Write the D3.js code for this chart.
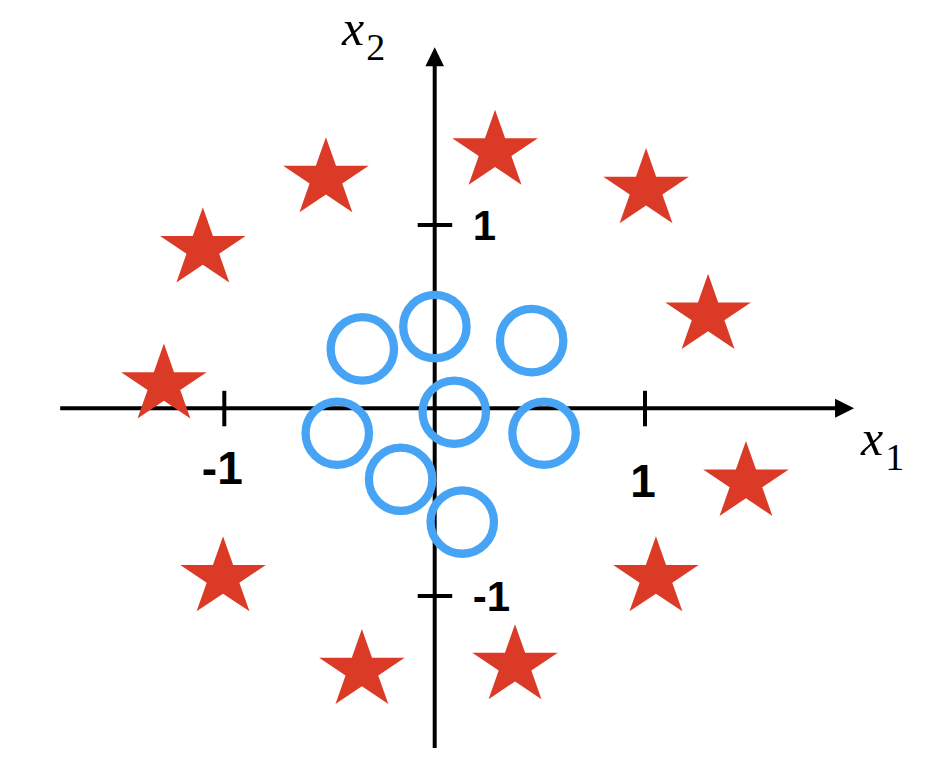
<!DOCTYPE html>
<html>
<head>
<meta charset="utf-8">
<script src="https://cdn.jsdelivr.net/npm/d3@7"></script>
<style>
html,body{margin:0;padding:0;background:#fff;}
svg{display:block;}
</style>
</head>
<body>
<svg id="chart" width="932" height="770"></svg>
<script>
// Data (axis units)
const circleX = [-0.344, 0.001, 0.461, 0.093, -0.463, 0.520, -0.162, 0.131];
const circleY = [0.324, 0.446, 0.369, -0.021, -0.133, -0.133, -0.378, -0.606];
const starX = [-1.287, -1.102, -0.517, 0.287, 1.005, 1.300, 1.480, 1.052, 0.382, -0.346, -1.006];
const starY = [0.127, 0.870, 1.253, 1.403, 1.193, 0.507, -0.395, -0.903, -1.371, -1.397, -0.903];
const xTicks = [-1, 1];
const yTicks = [1, -1];
const xTickLabels = ["-1", "1"];
const yTickLabels = ["1", "-1"];

const svg = d3.select("#chart");
const x = d3.scaleLinear().domain([-1, 0, 1]).range([224.3, 434.7, 645]);
const y = d3.scaleLinear().domain([-1, 0, 1]).range([596, 408.3, 225]);

const black = "#000";
const axisW = 4;

const xMin = -1.78, xMax = 1.994;
const yMin = -1.81, yMax = 1.97;
const g = svg.append("g");
// horizontal axis
g.append("line").attr("x1", x(xMin)).attr("x2", x(xMax) - 10).attr("y1", y(0)).attr("y2", y(0))
  .attr("stroke", black).attr("stroke-width", axisW);
g.append("path").attr("d", `M${x(xMax)},${y(0)} L${x(xMax)-19},${y(0)-9.5} L${x(xMax)-19},${y(0)+9.5} Z`).attr("fill", black);
// vertical axis
g.append("line").attr("x1", x(0)).attr("x2", x(0)).attr("y1", y(yMin)).attr("y2", y(yMax) + 10)
  .attr("stroke", black).attr("stroke-width", axisW);
g.append("path").attr("d", `M${x(0)},${y(yMax)} L${x(0)-9.3},${y(yMax)+19} L${x(0)+9.3},${y(yMax)+19} Z`).attr("fill", black);

// ticks
g.selectAll(".xt").data(xTicks).join("line")
  .attr("x1", d => x(d)).attr("x2", d => x(d)).attr("y1", y(0) - 17.5).attr("y2", y(0) + 18)
  .attr("stroke", black).attr("stroke-width", axisW);
g.selectAll(".yt").data(yTicks).join("line")
  .attr("y1", d => y(d)).attr("y2", d => y(d)).attr("x1", x(0) - 17).attr("x2", x(0) + 17.5)
  .attr("stroke", black).attr("stroke-width", axisW);

// tick labels
const tickFont = "'Liberation Sans', Arial, Helvetica, sans-serif";
const xLabelBase = [484, 497];
g.selectAll(".xl").data(xTicks).join("text")
  .attr("x", d => x(d) - 2).attr("y", (d, i) => xLabelBase[i])
  .attr("text-anchor", "middle").attr("font-family", tickFont).attr("font-weight", "bold")
  .attr("font-size", 46).text((d, i) => xTickLabels[i]);
g.selectAll(".yl").data(yTicks).join("text")
  .attr("x", x(0) + 38).attr("y", d => y(d) + 15)
  .attr("text-anchor", "start").attr("font-family", tickFont).attr("font-weight", "bold")
  .attr("font-size", 42).text((d, i) => yTickLabels[i]);

// axis titles
const serif = "'Liberation Serif', 'Times New Roman', serif";
function axisTitle(px, py, sub) {
  const t = svg.append("text").attr("x", px).attr("y", py).attr("font-family", serif).attr("font-size", 50);
  t.append("tspan").attr("font-style", "italic").text("x");
  t.append("tspan").attr("font-size", 38).attr("dy", 15).attr("dx", 2).text(sub);
}
axisTitle(342, 45, "2");
axisTitle(861, 455, "1");

// circles
svg.append("g").selectAll("circle").data(circleX).join("circle")
  .attr("cx", d => x(d)).attr("cy", (d, i) => y(circleY[i])).attr("r", 31.7)
  .attr("fill", "none").attr("stroke", "#47a4f5").attr("stroke-width", 8.3);

// stars
const starPath = d3.symbol().type(d3.symbolStar).size(41.5 * 41.5 / 0.8908130915292852)();
svg.append("g").selectAll("path").data(starX).join("path")
  .attr("d", starPath)
  .attr("transform", (d, i) => `translate(${x(d)},${y(starY[i])}) scale(1.084,1)`)
  .attr("fill", "#db3b26");
</script>
</body>
</html>
